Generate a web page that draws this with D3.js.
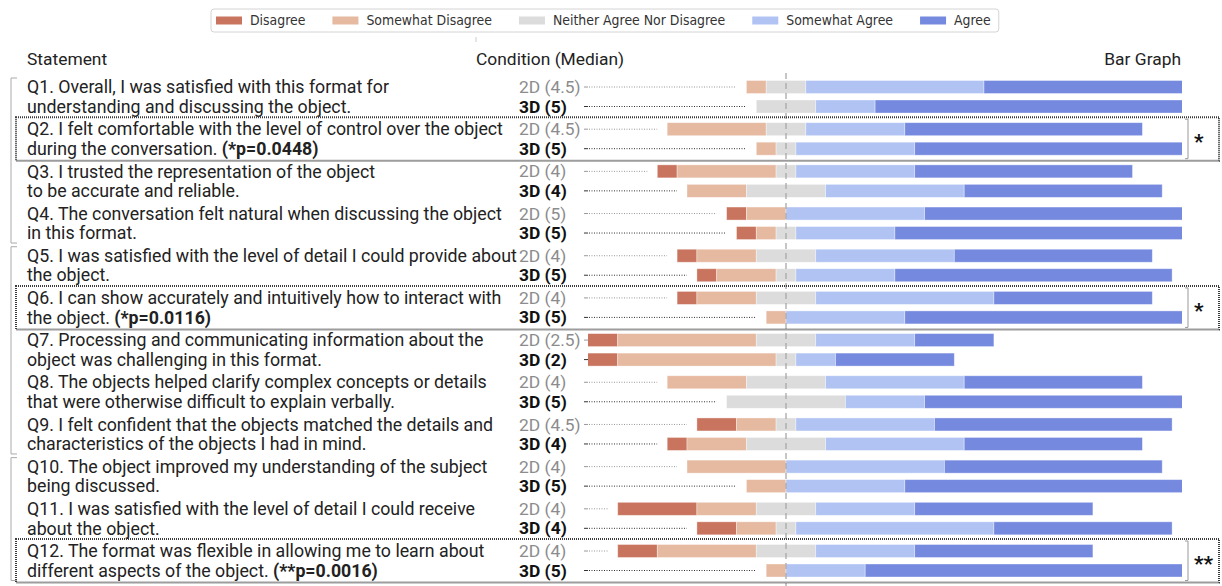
<!DOCTYPE html>
<html><head><meta charset="utf-8">
<script src="https://cdn.jsdelivr.net/npm/d3@7"></script>
<style>
html,body{margin:0;padding:0;background:#fff;}
svg{display:block;font-family:Roboto,"Noto Sans",sans-serif;}
</style></head>
<body>
<svg id="chart" width="1222" height="586"></svg>
<script>
// ---- data ----
const questions = ["Q1","Q2","Q3","Q4","Q5","Q6","Q7","Q8","Q9","Q10","Q11","Q12"];
const levels = ["Disagree","Somewhat Disagree","Neither Agree Nor Disagree","Somewhat Agree","Agree"];
const statementLine1 = [
  "Q1. Overall, I was satisfied with this format for",
  "Q2. I felt comfortable with the level of control over the object",
  "Q3. I trusted the representation of the object",
  "Q4. The conversation felt natural when discussing the object",
  "Q5. I was satisfied with the level of detail I could provide about",
  "Q6. I can show accurately and intuitively how to interact with",
  "Q7. Processing and communicating information about the",
  "Q8. The objects helped clarify complex concepts or details",
  "Q9. I felt confident that the objects matched the details and",
  "Q10. The object improved my understanding of the subject",
  "Q11. I was satisfied with the level of detail I could receive",
  "Q12. The format was flexible in allowing me to learn about"];
const statementLine2 = [
  "understanding and discussing the object.",
  "during the conversation.",
  "to be accurate and reliable.",
  "in this format.",
  "the object.",
  "the object.",
  "object was challenging in this format.",
  "that were otherwise difficult to explain verbally.",
  "characteristics of the objects I had in mind.",
  "being discussed.",
  "about the object.",
  "different aspects of the object."];
const pNotes = ["","(*p=0.0448)","","","","(*p=0.0116)","","","","","","(**p=0.0016)"];
const sigMarks = ["","*","","","","*","","","","","","**"];
const groups = [[0,3],[4,8],[9,11]];
const median2D = ["4.5","4.5","4","5","4","4","2.5","4","4.5","4","4","4"];
const median3D = ["5","5","4","5","5","5","2","5","4","5","4","5"];
// counts per response level (N = 24)
const disagree2D          = [0,0,1,1,1,1,5,0,2,0,4,2];
const somewhatDisagree2D  = [1,5,5,2,3,3,7,4,2,5,3,5];
const neutral2D           = [2,2,1,0,3,3,3,4,1,0,3,3];
const somewhatAgree2D     = [9,5,6,7,7,9,5,7,7,8,5,5];
const agree2D             = [12,12,11,14,10,8,4,9,12,11,9,9];
const disagree3D          = [0,0,0,1,1,0,7,0,1,0,2,0];
const somewhatDisagree3D  = [0,1,3,1,3,1,8,0,3,2,2,1];
const neutral3D           = [3,1,4,1,1,0,1,6,4,0,1,0];
const somewhatAgree3D     = [3,6,7,5,5,6,2,4,7,6,10,4];
const agree3D             = [18,16,10,16,14,17,6,14,9,16,9,19];
const axisDomain = [-10, 20];

const colors = ["#c9745f","#e6b9a1","#dcdcdc","#b0c3f3","#7589df"];
const FS = 17.4;   // labels / headers
const FSS = 17.75; // statements

// ---- build rows ----
const rows = [];
questions.forEach((q,i)=>{
  rows.push({q, i, cond:"2D", label:`2D (${median2D[i]})`,
    vals:[disagree2D[i],somewhatDisagree2D[i],neutral2D[i],somewhatAgree2D[i],agree2D[i]]});
  rows.push({q, i, cond:"3D", label:`3D (${median3D[i]})`,
    vals:[disagree3D[i],somewhatDisagree3D[i],neutral3D[i],somewhatAgree3D[i],agree3D[i]]});
});

const svg = d3.select("#chart");
const x = d3.scaleLinear().domain(axisDomain).range([588, 1182]);
const yQ = d3.scalePoint().domain(questions).range([87, 551]);
const condOffset = {"2D":0, "3D":19.5};
const rowY = r => yQ(r.q) + condOffset[r.cond];
const barH = 13;

// ---- legend ----
const leg = svg.append("g");
const legBox = leg.append("rect").attr("x",211).attr("y",9).attr("height",23).attr("rx",3)
  .attr("fill","#fff").attr("stroke","#d4d4d4").attr("stroke-width",1);
let lx = 216;
levels.forEach((lv,k)=>{
  leg.append("rect").attr("x",lx).attr("y",16.5).attr("width",26).attr("height",8).attr("fill",colors[k]);
  const t = leg.append("text").attr("x",lx+34).attr("y",20.5).attr("dy","0.35em")
    .attr("font-family","'DejaVu Sans Condensed','DejaVu Sans',sans-serif").attr("font-stretch","condensed")
    .attr("font-size",13.9).attr("fill","#333").text(lv);
  const w = t.node().getComputedTextLength();
  lx = lx + 34 + w + 27;
});
legBox.attr("width", lx - 27 + 8 - 211);
svg.append("line").attr("x1",476).attr("x2",476).attr("y1",37).attr("y2",42).attr("stroke","#ccc");

// ---- headers ----
svg.append("text").attr("x",27).attr("y",59).attr("dy","0.35em").attr("font-size",FS).attr("fill","#222").text("Statement");
svg.append("text").attr("x",476).attr("y",59).attr("dy","0.35em").attr("font-size",FS).attr("fill","#222").text("Condition (Median)");
svg.append("text").attr("x",1181).attr("y",59).attr("dy","0.35em").attr("text-anchor","end").attr("font-size",FS).attr("fill","#222").text("Bar Graph");

// ---- left group brackets ----
groups.forEach(([a,b])=>{
  const top = yQ(questions[a]) - 9, bot = yQ(questions[b]) + condOffset["3D"] + 10;
  svg.append("path").attr("d",`M17,${top}H11V${bot}H17`).attr("fill","none").attr("stroke","#aaa").attr("stroke-width",1);
});

// ---- statements ----
questions.forEach((q,i)=>{
  svg.append("text").attr("x",27).attr("y",yQ(q)).attr("dy","0.35em").attr("font-size",FSS).attr("fill","#222").text(statementLine1[i]);
  const t2 = svg.append("text").attr("x",27).attr("y",yQ(q)+condOffset["3D"]).attr("dy","0.35em").attr("font-size",FSS).attr("fill","#222");
  t2.append("tspan").text(statementLine2[i]);
  if (pNotes[i]) t2.append("tspan").attr("font-weight","bold").text(" " + pNotes[i]);
});

// ---- condition labels and leaders ----
rows.forEach(r=>{
  const y = rowY(r);
  svg.append("text").attr("x",519).attr("y",y).attr("dy","0.35em").attr("font-size",FS)
    .attr("font-weight", r.cond==="3D" ? "bold" : "normal")
    .attr("fill", r.cond==="3D" ? "#111" : "#8c8c8c").text(r.label);
  const start = Math.max(axisDomain[0], -(r.vals[0]+r.vals[1]+r.vals[2]/2));
  const bx = x(start);
  const col = r.cond==="3D" ? "#333" : "#999";
  svg.append("line").attr("x1",584).attr("x2",588).attr("y1",y).attr("y2",y).attr("stroke",col).attr("stroke-width",1);
  if (bx - 10 > 590) {
    svg.append("line").attr("x1",589).attr("x2",bx-10).attr("y1",y).attr("y2",y)
      .attr("stroke",col).attr("stroke-width",1).attr("stroke-dasharray","1,1.5");
  }
});

// ---- bars ----
svg.append("clipPath").attr("id","plotclip").append("rect")
  .attr("x",x(axisDomain[0])).attr("y",60).attr("width",x(axisDomain[1])-x(axisDomain[0])).attr("height",526);
const barG = svg.append("g").attr("clip-path","url(#plotclip)");
rows.forEach(r=>{
  let cur = -(r.vals[0]+r.vals[1]+r.vals[2]/2);
  r.vals.forEach((v,k)=>{
    if (v>0) {
      barG.append("rect").attr("x",x(cur)).attr("y",rowY(r)-barH/2)
        .attr("width",x(cur+v)-x(cur)).attr("height",barH)
        .attr("fill",colors[k]).attr("stroke","#fff").attr("stroke-opacity",0.45).attr("stroke-width",0.8);
    }
    cur += v;
  });
});

// ---- center dashed line ----
svg.append("line").attr("x1",x(0)).attr("x2",x(0)).attr("y1",73).attr("y2",586)
  .attr("stroke","#a8a8a8").attr("stroke-width",1.3).attr("stroke-dasharray","6,4");

// ---- significance boxes ----
questions.forEach((q,i)=>{
  if (!sigMarks[i]) return;
  const top = yQ(q) - 12, bot = yQ(q) + condOffset["3D"] + 12;
  svg.append("rect").attr("x",16).attr("y",top).attr("width",1203).attr("height",bot-top)
    .attr("fill","none").attr("stroke","#3a3a3a").attr("stroke-width",2).attr("stroke-dasharray","1,1");
  svg.append("path").attr("d",`M1185,${top+2}H1188V${bot-2}H1185`).attr("fill","none").attr("stroke","#999").attr("stroke-width",1);
  svg.append("text").attr("x",1194).attr("y",(top+bot)/2+3).attr("dy","0.35em").attr("font-size",21)
    .attr("font-weight","bold").attr("fill","#111").text(sigMarks[i]);
});
</script>
</body></html>
